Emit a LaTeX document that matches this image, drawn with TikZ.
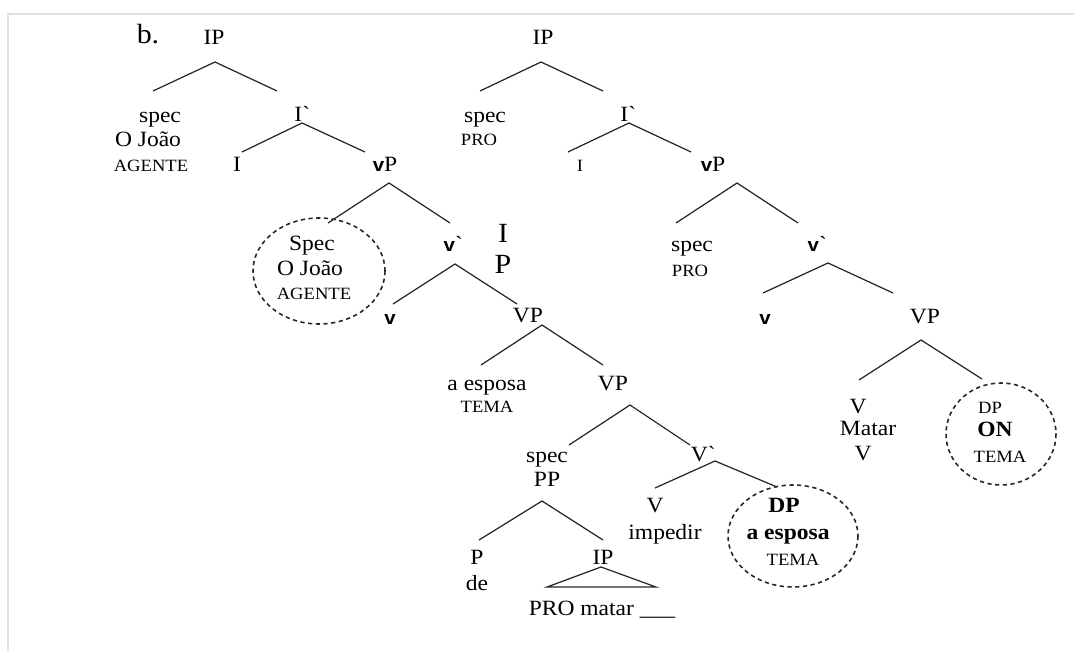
\documentclass[tikz,border=0pt]{standalone}
\usepackage{fontspec}
\setmainfont{Liberation Serif}[FakeStretch=1.08]
\newfontfamily\vfont{Liberation Sans}[FakeStretch=1.08]
\usetikzlibrary{positioning, calc}
\tikzset{
    lab/.style={anchor=mid, inner sep=0pt, yshift=-1.7pt, font=\fontsize{12.4}{14}\selectfont},
    sm/.style={lab, font=\fontsize{9.8}{12}\selectfont},
    big/.style={lab, font=\fontsize{15.8}{18}\selectfont},
    bold/.style={lab, font=\fontsize{12.4}{14}\selectfont\bfseries},
    branch/.style={draw=black!85, line width=0.7pt},
    ring/.style={draw=black!85, dash pattern=on 2.4pt off 2pt, line width=0.9pt},
    frame/.style={draw=black!12, line width=0.9pt}
}
\newcommand{\lv}{{\vfont\bfseries\fontsize{10.8}{12}\selectfont v}}

\begin{document}
\begin{tikzpicture}[x=0.02cm, y=-0.02cm]
        \useasboundingbox (0,0) rectangle (1074,651);
        \coordinate (FB) at (8,651); \coordinate (FL) at (8,14); \coordinate (FR) at (1074,14);
        \draw[frame] (FB) -- (FL) -- (FR);
        %Left tree
        \node[big] (b) at (148,36) {b.};
        \node[lab] (ip1) at (214,37) {IP};
        \node[lab] (spec1) at (160,115) {spec};
        \node[lab] (joao1) at (148,139) {O João};
        \node[sm] (agente1) at (151,164) {AGENTE};
        \node[lab] (ibar1) at (302,114) {I\textasciigrave};
        \node[lab] (i1) at (237,164) {I};
        \node[lab] (vp1) at (385,164) {\lv P};
        \node[lab] (spec2) at (312,243) {Spec};
        \node[lab] (joao2) at (310,268) {O João};
        \node[sm] (agente2) at (314,292) {AGENTE};
        \node[lab] (vbar1) at (453,244) {\lv\textasciigrave};
        \node[big] (bigI) at (503,235) {I};
        \node[big] (bigP) at (503,266) {P};
        \node[lab] (v1) at (390,317) {\lv};
        \node[lab] (VP1) at (528,315) {VP};
        \node[lab] (esposa1) at (487,383) {a esposa};
        \node[sm] (tema1) at (487,405) {TEMA};
        \node[lab] (VP2) at (613,383) {VP};
        \node[lab] (spec3) at (547,455) {spec};
        \node[lab] (pp1) at (547,479) {PP};
        \node[lab] (Vbar1) at (703,454) {V\textasciigrave};
        \node[lab] (V1) at (655,505) {V};
        \node[lab] (impedir) at (665,532) {impedir};
        \node[bold] (dp1) at (784,505) {DP};
        \node[bold] (esposa2) at (788,532) {a esposa};
        \node[sm] (tema2) at (793,558) {TEMA};
        \node[lab] (p1) at (477,557) {P};
        \node[lab] (de) at (477,583) {de};
        \node[lab] (ip2) at (603,557) {IP};
        \node[lab] (pro1) at (602,608) {PRO matar \_\_\_};
        %Right tree
        \node[lab] (ip3) at (543,37) {IP};
        \node[lab] (spec4) at (485,115) {spec};
        \node[sm] (pro2) at (479,138) {PRO};
        \node[lab] (ibar2) at (628,114) {I\textasciigrave};
        \node[sm] (i2) at (580,164) {I};
        \node[lab] (vp2) at (713,164) {\lv P};
        \node[lab] (spec5) at (692,244) {spec};
        \node[sm] (pro3) at (690,269) {PRO};
        \node[lab] (vbar2) at (817,244) {\lv\textasciigrave};
        \node[lab] (v2) at (765,317) {\lv};
        \node[lab] (VP3) at (925,316) {VP};
        \node[lab] (V2) at (858,406) {V};
        \node[lab] (matar) at (868,428) {Matar};
        \node[lab] (V3) at (863,453) {V};
        \node[sm] (dp2) at (990,406) {DP};
        \node[bold] (on) at (995,429) {ON};
        \node[sm] (tema3) at (1000,455) {TEMA};
        %Branches (apex, left end, right end)
        \foreach \n/\ax/\ay/\lx/\ly/\rx/\ry in {
            aIP/215/62/153/91/277/91, aIb/302/123/242/152/365/152,
            avP/389/183/328/223/450/223, avb/455/264/393/304/517/304,
            aVP/542/325/481/365/603/365, aVPb/630/405/569/445/690/445,
            aVb/715/461/655/488/777/487, aPP/542/501/479/540/603/540,
            bIP/541/62/480/91/603/91, bIb/629/123/568/152/691/152,
            bvP/737/183/676/223/798/223, bvb/828/263/763/293/893/293,
            bVP/921/340/859/380/982/379}{
            \coordinate (\n) at (\ax,\ay);
            \coordinate (\n-l) at (\lx,\ly);
            \coordinate (\n-r) at (\rx,\ry);
            \draw[branch] (\n-l) -- (\n) -- (\n-r);
        }
        %Triangle under IP
        \coordinate (tri) at (601,567); \coordinate (tri-l) at (547,587); \coordinate (tri-r) at (656,587);
        \draw[branch] (tri-l) -- (tri) -- (tri-r) -- cycle;
        %Dashed rings
        \coordinate (ring1) at (319,271); \coordinate (ring2) at (793,536); \coordinate (ring3) at (1001,434);
        \draw[ring] (ring1) ellipse [x radius=66, y radius=53];
        \draw[ring] (ring2) ellipse [x radius=65, y radius=51];
        \draw[ring] (ring3) ellipse [x radius=55, y radius=51];
\end{tikzpicture}
\end{document}
